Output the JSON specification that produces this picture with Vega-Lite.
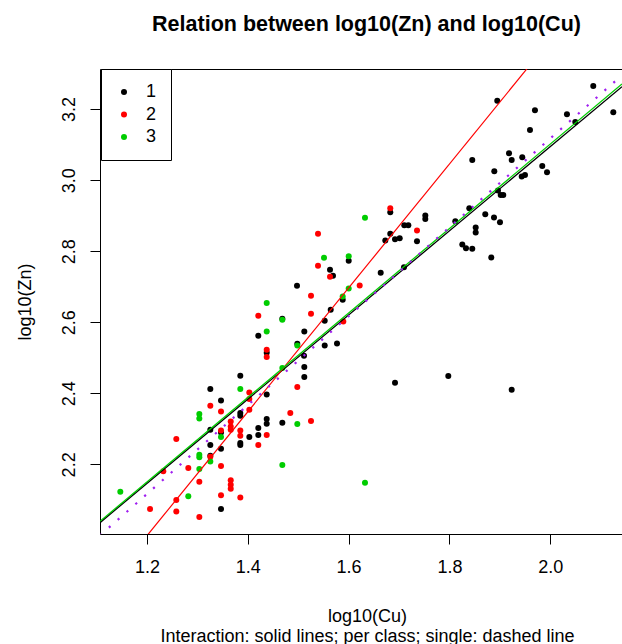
{
  "$schema": "https://vega.github.io/schema/vega-lite/v6.json",
  "width": 522,
  "height": 465,
  "autosize": {"type": "none"},
  "padding": {"left": 100, "top": 69, "right": 0, "bottom": 110},
  "title": {"text": "Relation between log10(Zn) and log10(Cu)", "fontSize": 21.5, "fontWeight": "bold", "font": "Liberation Sans", "color": "black", "anchor": "middle", "baseline": "alphabetic", "offset": 16, "dx": 5.5},
  "config": {"view": {"stroke": null}, "font": "Liberation Sans"},
  "datasets": {
    "pts": [
      {"x":1.5883,"y":2.6632,"class":"1"},{"x":1.5645,"y":2.6350,"class":"1"},{"x":1.5526,"y":2.6041,"class":"1"},{"x":1.4685,"y":2.6097,"class":"1"},{"x":1.4208,"y":2.5619,"class":"1"},{"x":1.5121,"y":2.5740,"class":"1"},{"x":1.4982,"y":2.5394,"class":"1"},{"x":1.5115,"y":2.5057,"class":"1"},{"x":1.5526,"y":2.5346,"class":"1"},{"x":1.5770,"y":2.5403,"class":"1"},{"x":1.4375,"y":2.5141,"class":"1"},{"x":1.5121,"y":2.4739,"class":"1"},{"x":1.5121,"y":2.4458,"class":"1"},{"x":1.3851,"y":2.4494,"class":"1"},{"x":1.4375,"y":2.3969,"class":"1"},{"x":1.3256,"y":2.4120,"class":"1"},{"x":1.3468,"y":2.3800,"class":"1"},{"x":1.3851,"y":2.3445,"class":"1"},{"x":1.3851,"y":2.3370,"class":"1"},{"x":1.3256,"y":2.2976,"class":"1"},{"x":1.3468,"y":2.2900,"class":"1"},{"x":1.4030,"y":2.2771,"class":"1"},{"x":1.4208,"y":2.3024,"class":"1"},{"x":1.4208,"y":2.2827,"class":"1"},{"x":1.4375,"y":2.3277,"class":"1"},{"x":1.4375,"y":2.3145,"class":"1"},{"x":1.4685,"y":2.3173,"class":"1"},{"x":1.3256,"y":2.2546,"class":"1"},{"x":1.3468,"y":2.2442,"class":"1"},{"x":1.3851,"y":2.2602,"class":"1"},{"x":1.3851,"y":2.2546,"class":"1"},{"x":1.3256,"y":2.2245,"class":"1"},{"x":1.3468,"y":2.0746,"class":"1"},{"x":1.8454,"y":3.0569,"class":"1"},{"x":1.9236,"y":3.0569,"class":"1"},{"x":1.8891,"y":3.0251,"class":"1"},{"x":1.9843,"y":3.0400,"class":"1"},{"x":1.9937,"y":3.0223,"class":"1"},{"x":1.9435,"y":3.0099,"class":"1"},{"x":1.9500,"y":3.0147,"class":"1"},{"x":1.8964,"y":2.9705,"class":"1"},{"x":1.9018,"y":2.9584,"class":"1"},{"x":1.9069,"y":2.9584,"class":"1"},{"x":1.8395,"y":2.9210,"class":"1"},{"x":1.8712,"y":2.9042,"class":"1"},{"x":1.8885,"y":2.8946,"class":"1"},{"x":1.9004,"y":2.8817,"class":"1"},{"x":1.8522,"y":2.8665,"class":"1"},{"x":1.8522,"y":2.8524,"class":"1"},{"x":1.8117,"y":2.8845,"class":"1"},{"x":1.8256,"y":2.8187,"class":"1"},{"x":1.8329,"y":2.8085,"class":"1"},{"x":1.8454,"y":2.8066,"class":"1"},{"x":1.8831,"y":2.7821,"class":"1"},{"x":1.6827,"y":2.9098,"class":"1"},{"x":1.7522,"y":2.9002,"class":"1"},{"x":1.7522,"y":2.8909,"class":"1"},{"x":1.7105,"y":2.8732,"class":"1"},{"x":1.7185,"y":2.8732,"class":"1"},{"x":1.6827,"y":2.8488,"class":"1"},{"x":1.6728,"y":2.8299,"class":"1"},{"x":1.6921,"y":2.8339,"class":"1"},{"x":1.7014,"y":2.8367,"class":"1"},{"x":1.7357,"y":2.8282,"class":"1"},{"x":1.6002,"y":2.7728,"class":"1"},{"x":1.6637,"y":2.7391,"class":"1"},{"x":1.7099,"y":2.7551,"class":"1"},{"x":1.6921,"y":2.4298,"class":"1"},{"x":1.7978,"y":2.4486,"class":"1"},{"x":1.9236,"y":2.4101,"class":"1"},{"x":1.8950,"y":3.2236,"class":"1"},{"x":1.9698,"y":3.1966,"class":"1"},{"x":2.0855,"y":3.2650,"class":"1"},{"x":2.1252,"y":3.1910,"class":"1"},{"x":2.0333,"y":3.1854,"class":"1"},{"x":2.0498,"y":3.1637,"class":"1"},{"x":1.9599,"y":3.1412,"class":"1"},{"x":1.9183,"y":3.0757,"class":"1"},{"x":1.9446,"y":3.0645,"class":"1"},{"x":1.5631,"y":2.7475,"class":"1"},{"x":1.5690,"y":2.7306,"class":"1"},{"x":1.4976,"y":2.7025,"class":"1"},
      {"x":1.4208,"y":2.6182,"class":"2"},{"x":1.5254,"y":2.6238,"class":"2"},{"x":1.5895,"y":2.6021,"class":"2"},{"x":1.4375,"y":2.5226,"class":"2"},{"x":1.4375,"y":2.5020,"class":"2"},{"x":1.4982,"y":2.4177,"class":"2"},{"x":1.4030,"y":2.4025,"class":"2"},{"x":1.4030,"y":2.3839,"class":"2"},{"x":1.3256,"y":2.3651,"class":"2"},{"x":1.3468,"y":2.3490,"class":"2"},{"x":1.4030,"y":2.3538,"class":"2"},{"x":1.4843,"y":2.3445,"class":"2"},{"x":1.3468,"y":2.2956,"class":"2"},{"x":1.3661,"y":2.3209,"class":"2"},{"x":1.3661,"y":2.3069,"class":"2"},{"x":1.3661,"y":2.2976,"class":"2"},{"x":1.3851,"y":2.2956,"class":"2"},{"x":1.3851,"y":2.2807,"class":"2"},{"x":1.4375,"y":2.2827,"class":"2"},{"x":1.5254,"y":2.3220,"class":"2"},{"x":1.2581,"y":2.2714,"class":"2"},{"x":1.4208,"y":2.2546,"class":"2"},{"x":1.3256,"y":2.2217,"class":"2"},{"x":1.2323,"y":2.1803,"class":"2"},{"x":1.2819,"y":2.1899,"class":"2"},{"x":1.3468,"y":2.1955,"class":"2"},{"x":1.3038,"y":2.1513,"class":"2"},{"x":1.3661,"y":2.1550,"class":"2"},{"x":1.3661,"y":2.1429,"class":"2"},{"x":1.3661,"y":2.1317,"class":"2"},{"x":1.3468,"y":2.1128,"class":"2"},{"x":1.3851,"y":2.1064,"class":"2"},{"x":1.2060,"y":2.0746,"class":"2"},{"x":1.2581,"y":2.0999,"class":"2"},{"x":1.2581,"y":2.0670,"class":"2"},{"x":1.3038,"y":2.0521,"class":"2"},{"x":1.6827,"y":2.9210,"class":"2"},{"x":1.7357,"y":2.8580,"class":"2"},{"x":1.6220,"y":2.7034,"class":"2"},{"x":1.5393,"y":2.8488,"class":"2"},{"x":1.5393,"y":2.7588,"class":"2"},{"x":1.5631,"y":2.7278,"class":"2"},{"x":1.5254,"y":2.6744,"class":"2"},
      {"x":1.4375,"y":2.6539,"class":"3"},{"x":1.4685,"y":2.6069,"class":"3"},{"x":1.4375,"y":2.5740,"class":"3"},{"x":1.4982,"y":2.5346,"class":"3"},{"x":1.4685,"y":2.4711,"class":"3"},{"x":1.3851,"y":2.4120,"class":"3"},{"x":1.3038,"y":2.3417,"class":"3"},{"x":1.3038,"y":2.3294,"class":"3"},{"x":1.4982,"y":2.3136,"class":"3"},{"x":1.3468,"y":2.2771,"class":"3"},{"x":1.3038,"y":2.2273,"class":"3"},{"x":1.3038,"y":2.2197,"class":"3"},{"x":1.3256,"y":2.2084,"class":"3"},{"x":1.3038,"y":2.1871,"class":"3"},{"x":1.4685,"y":2.1983,"class":"3"},{"x":1.1470,"y":2.1232,"class":"3"},{"x":1.2819,"y":2.1100,"class":"3"},{"x":1.6325,"y":2.8938,"class":"3"},{"x":1.6002,"y":2.7860,"class":"3"},{"x":1.6002,"y":2.6949,"class":"3"},{"x":1.5883,"y":2.6724,"class":"3"},{"x":1.6325,"y":2.1485,"class":"3"},{"x":1.5512,"y":2.7813,"class":"3"}
    ],
    "lines": [
      {"x":1.1067,"y":2.036,"series":"black"},{"x":2.1425,"y":3.263,"series":"black"},
      {"x":1.1067,"y":1.8368,"series":"red"},{"x":2.1425,"y":3.6422,"series":"red"},
      {"x":1.1067,"y":2.0397,"series":"green"},{"x":2.1425,"y":3.2706,"series":"green"},
      {"x":1.1067,"y":2.0,"series":"single"},{"x":2.1425,"y":3.2953,"series":"single"}
    ]
  },
  "layer": [
    {
      "data": {"name": "pts"},
      "mark": {"type": "circle", "size": 36, "opacity": 1},
      "encoding": {
        "x": {"field": "x", "type": "quantitative", "scale": {"domain": [1.1067, 2.1425], "nice": false, "zero": false},
          "axis": {"orient": "bottom", "values": [1.2, 1.4, 1.6, 1.8, 2.0], "format": ".1f", "grid": false, "domain": true, "domainColor": "black", "domainWidth": 1, "tickColor": "black", "tickSize": 10, "labelFontSize": 18, "labelColor": "black", "labelPadding": 14, "labelFlush": false, "labelFont": "Liberation Sans",
            "title": ["log10(Cu)", "Interaction: solid lines; per class; single: dashed line"], "titleFont": "Liberation Sans", "titleFontSize": 18, "titleFontWeight": "normal", "titleColor": "black", "titleX": 267, "titleY": 73, "titleBaseline": "top", "titleAlign": "center", "titleLineHeight": 20}},
        "y": {"field": "y", "type": "quantitative", "scale": {"domain": [2.004, 3.3128], "nice": false, "zero": false},
          "axis": {"values": [2.2, 2.4, 2.6, 2.8, 3.0, 3.2], "format": ".1f", "grid": false, "domain": true, "domainColor": "black", "tickColor": "black", "ticks": true, "tickSize": 10, "labels": true, "labelFontSize": 18, "labelColor": "black", "labelAngle": 270, "labelAlign": "center", "labelBaseline": "alphabetic", "labelPadding": 16, "labelFont": "Liberation Sans",
            "title": "log10(Zn)", "titleFont": "Liberation Sans", "titleFontSize": 18, "titleFontWeight": "normal", "titleColor": "black", "titleX": -75, "titleY": 232.5, "titleAngle": 270, "titleAlign": "center", "titleBaseline": "middle"}},
        "color": {"field": "class", "type": "nominal", "scale": {"domain": ["1", "2", "3"], "range": ["#000000", "#FF0000", "#00CD00"]},
          "legend": {"title": null, "orient": "none", "legendX": 1, "legendY": 0, "strokeColor": "black", "fillColor": "white", "padding": 14, "labelFontSize": 18, "labelColor": "black", "labelFont": "Liberation Sans", "symbolType": "circle", "symbolSize": 36, "symbolStrokeWidth": 0, "rowPadding": 4.5, "labelOffset": 13}}
      }
    },
    {
      "data": {"name": "lines"},
      "transform": [{"filter": "datum.series == 'black'"}],
      "mark": {"type": "line", "color": "#000000", "strokeWidth": 1.3, "clip": true},
      "encoding": {"x": {"field": "x", "type": "quantitative", "axis": null}, "y": {"field": "y", "type": "quantitative"}}
    },
    {
      "data": {"name": "lines"},
      "transform": [{"filter": "datum.series == 'red'"}],
      "mark": {"type": "line", "color": "#FF0000", "strokeWidth": 1.2, "clip": true},
      "encoding": {"x": {"field": "x", "type": "quantitative", "axis": null}, "y": {"field": "y", "type": "quantitative"}}
    },
    {
      "data": {"name": "lines"},
      "transform": [{"filter": "datum.series == 'green'"}],
      "mark": {"type": "line", "color": "#00CD00", "strokeWidth": 1.3, "clip": true},
      "encoding": {"x": {"field": "x", "type": "quantitative", "axis": null}, "y": {"field": "y", "type": "quantitative"}}
    },
    {
      "data": {"name": "lines"},
      "transform": [{"filter": "datum.series == 'single'"}],
      "mark": {"type": "line", "color": "#A020F0", "strokeWidth": 2.2, "strokeDash": [2.2, 9.6], "strokeCap": "butt", "clip": true},
      "encoding": {"x": {"field": "x", "type": "quantitative", "axis": {"orient": "top", "labels": false, "ticks": false, "title": null, "grid": false, "domain": true, "domainColor": "black", "domainWidth": 1}}, "y": {"field": "y", "type": "quantitative"}}
    }
  ],
  "resolve": {"axis": {"x": "independent"}}
}
